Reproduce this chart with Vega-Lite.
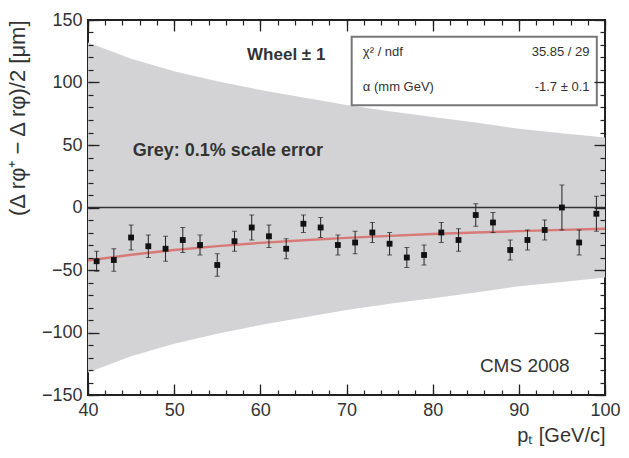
{
  "$schema": "https://vega.github.io/schema/vega-lite/v6.json",
  "width": 517,
  "height": 375,
  "autosize": "none",
  "padding": {"left": 88, "top": 20, "right": 24, "bottom": 63},
  "background": "white",
  "data": {"values": [{}]},
  "config": {
    "view": {"stroke": "#222", "strokeWidth": 2},
    "axis": {"domain": false, "grid": false, "labelFont": "Liberation Sans", "labelFontSize": 18, "labelColor": "#333", "titleFont": "Liberation Sans", "titleColor": "#333", "titleFontWeight": "normal", "labelOverlap": false, "labelFlush": false, "labelBound": false},
    "text": {"font": "Liberation Sans", "color": "#333", "baseline": "middle"}
  },
  "datasets": {
    "band": [
      {"pt": 40, "lo": -132, "hi": 132},
      {"pt": 45, "lo": -119, "hi": 119},
      {"pt": 50, "lo": -109, "hi": 109},
      {"pt": 55, "lo": -101, "hi": 101},
      {"pt": 60, "lo": -94, "hi": 94},
      {"pt": 65, "lo": -88, "hi": 88},
      {"pt": 70, "lo": -82, "hi": 82},
      {"pt": 75, "lo": -77, "hi": 77},
      {"pt": 80, "lo": -72.5, "hi": 72.5},
      {"pt": 85, "lo": -68, "hi": 68},
      {"pt": 90, "lo": -63, "hi": 63},
      {"pt": 95, "lo": -59.5, "hi": 59.5},
      {"pt": 100, "lo": -56, "hi": 56}
    ],
    "fit": [
      {"pt": 40, "v": -42.5},
      {"pt": 45, "v": -37.8},
      {"pt": 50, "v": -34},
      {"pt": 55, "v": -30.9},
      {"pt": 60, "v": -28.3},
      {"pt": 65, "v": -26.2},
      {"pt": 70, "v": -24.3},
      {"pt": 75, "v": -22.7},
      {"pt": 80, "v": -21.25},
      {"pt": 85, "v": -20},
      {"pt": 90, "v": -18.9},
      {"pt": 95, "v": -17.9},
      {"pt": 100, "v": -17}
    ],
    "pts": [
      {"pt": 41, "v": -43, "lo": -51, "hi": -35},
      {"pt": 43, "v": -42, "lo": -51, "hi": -33},
      {"pt": 45, "v": -24, "lo": -34, "hi": -14},
      {"pt": 47, "v": -31, "lo": -40, "hi": -22},
      {"pt": 49, "v": -33, "lo": -43, "hi": -23},
      {"pt": 51, "v": -26, "lo": -36, "hi": -16},
      {"pt": 53, "v": -30, "lo": -38, "hi": -22},
      {"pt": 55, "v": -46, "lo": -55, "hi": -37},
      {"pt": 57, "v": -27, "lo": -35, "hi": -19},
      {"pt": 59, "v": -16, "lo": -26, "hi": -6},
      {"pt": 61, "v": -23, "lo": -32, "hi": -14},
      {"pt": 63, "v": -33, "lo": -41, "hi": -25},
      {"pt": 65, "v": -13, "lo": -20, "hi": -6},
      {"pt": 67, "v": -16, "lo": -24, "hi": -8},
      {"pt": 69, "v": -30, "lo": -38, "hi": -22},
      {"pt": 71, "v": -28, "lo": -37, "hi": -19},
      {"pt": 73, "v": -20, "lo": -28, "hi": -12},
      {"pt": 75, "v": -29, "lo": -38, "hi": -20},
      {"pt": 77, "v": -40, "lo": -48, "hi": -32},
      {"pt": 79, "v": -38, "lo": -46, "hi": -30},
      {"pt": 81, "v": -20, "lo": -28, "hi": -12},
      {"pt": 83, "v": -26, "lo": -35, "hi": -17},
      {"pt": 85, "v": -6, "lo": -15, "hi": 3},
      {"pt": 87, "v": -12, "lo": -20, "hi": -4},
      {"pt": 89, "v": -34, "lo": -42, "hi": -26},
      {"pt": 91, "v": -26, "lo": -34, "hi": -18},
      {"pt": 93, "v": -18, "lo": -26, "hi": -10},
      {"pt": 95, "v": 0, "lo": -18, "hi": 18},
      {"pt": 97, "v": -28, "lo": -38, "hi": -18},
      {"pt": 99, "v": -5, "lo": -19, "hi": 9}
    ]
  },
  "resolve": {"scale": {"x": "independent", "y": "independent"}, "axis": {"x": "independent", "y": "independent"}},
  "layer": [
    {
      "data": {"name": "band"},
      "mark": {"type": "area", "color": "#d3d3d5", "clip": true},
      "encoding": {
        "x": {"field": "pt", "type": "quantitative", "scale": {"domain": [40, 100], "nice": false, "zero": false},
              "axis": {"orient": "bottom", "values": [40, 50, 60, 70, 80, 90, 100], "zindex": 2, "offset": -11, "tickSize": 11, "tickColor": "#222", "tickWidth": 1.3, "labelPadding": 6, "title": "pₜ [GeV/c]", "titleAnchor": "end", "titleFontSize": 20, "titlePadding": 6}},
        "y": {"field": "lo", "type": "quantitative", "scale": {"domain": [-150, 150], "nice": false, "zero": false},
              "axis": {"orient": "left", "values": [-150, -100, -50, 0, 50, 100, 150], "zindex": 2, "offset": -11, "tickSize": 11, "tickColor": "#222", "tickWidth": 1.3, "labelPadding": 6, "title": "(Δ rφ⁺ − Δ rφ)/2 [μm]", "titleAnchor": "end", "titleFontSize": 22, "titlePadding": 12}},
        "y2": {"field": "hi"}
      }
    },
    {
      "data": {"name": "fit"},
      "mark": {"type": "line", "color": "#d9534f", "strokeWidth": 2.5, "opacity": 0.7, "clip": true},
      "encoding": {
        "x": {"field": "pt", "type": "quantitative", "scale": {"domain": [40, 100], "nice": false, "zero": false}, "axis": {"orient": "top", "values": [40, 50, 60, 70, 80, 90, 100], "zindex": 2, "offset": -11, "tickSize": 11, "tickColor": "#222", "tickWidth": 1.3, "labels": false, "title": null}},
        "y": {"field": "v", "type": "quantitative", "scale": {"domain": [-150, 150], "nice": false, "zero": false}, "axis": {"orient": "right", "values": [-150, -100, -50, 0, 50, 100, 150], "zindex": 2, "offset": -11, "tickSize": 11, "tickColor": "#222", "tickWidth": 1.3, "labels": false, "title": null}}
      }
    },
    {
      "mark": {"type": "rule", "color": "#333", "strokeWidth": 1.5},
      "encoding": {"y": {"datum": 0, "type": "quantitative", "scale": {"domain": [-150, 150], "nice": false, "zero": false}, "axis": null}}
    },
    {
      "data": {"name": "pts"},
      "mark": {"type": "rule", "color": "#222", "strokeWidth": 1},
      "encoding": {
        "x": {"field": "pt", "type": "quantitative", "scale": {"domain": [40, 100], "nice": false, "zero": false}, "axis": {"orient": "bottom", "values": [40,42,44,46,48,50,52,54,56,58,60,62,64,66,68,70,72,74,76,78,80,82,84,86,88,90,92,94,96,98,100], "zindex": 2, "offset": -5, "tickSize": 5, "tickColor": "#222", "tickWidth": 1.2, "labels": false, "title": null}},
        "y": {"field": "lo", "type": "quantitative", "scale": {"domain": [-150, 150], "nice": false, "zero": false}, "axis": {"orient": "left", "values": [-150,-140,-130,-120,-110,-100,-90,-80,-70,-60,-50,-40,-30,-20,-10,0,10,20,30,40,50,60,70,80,90,100,110,120,130,140,150], "zindex": 2, "offset": -5, "tickSize": 5, "tickColor": "#222", "tickWidth": 1.2, "labels": false, "title": null}},
        "y2": {"field": "hi"}
      }
    },
    {
      "data": {"name": "pts"},
      "mark": {"type": "tick", "color": "#222", "orient": "horizontal", "size": 5, "thickness": 1},
      "encoding": {
        "x": {"field": "pt", "type": "quantitative", "scale": {"domain": [40, 100], "nice": false, "zero": false}, "axis": {"orient": "top", "values": [40,42,44,46,48,50,52,54,56,58,60,62,64,66,68,70,72,74,76,78,80,82,84,86,88,90,92,94,96,98,100], "zindex": 2, "offset": -5, "tickSize": 5, "tickColor": "#222", "tickWidth": 1.2, "labels": false, "title": null}},
        "y": {"field": "lo", "type": "quantitative", "scale": {"domain": [-150, 150], "nice": false, "zero": false}, "axis": {"orient": "right", "values": [-150,-140,-130,-120,-110,-100,-90,-80,-70,-60,-50,-40,-30,-20,-10,0,10,20,30,40,50,60,70,80,90,100,110,120,130,140,150], "zindex": 2, "offset": -5, "tickSize": 5, "tickColor": "#222", "tickWidth": 1.2, "labels": false, "title": null}}
      }
    },
    {
      "data": {"name": "pts"},
      "mark": {"type": "tick", "color": "#222", "orient": "horizontal", "size": 5, "thickness": 1},
      "encoding": {
        "x": {"field": "pt", "type": "quantitative", "scale": {"domain": [40, 100], "nice": false, "zero": false}, "axis": null},
        "y": {"field": "hi", "type": "quantitative", "scale": {"domain": [-150, 150], "nice": false, "zero": false}, "axis": null}
      }
    },
    {
      "data": {"name": "pts"},
      "mark": {"type": "square", "color": "#111", "filled": true, "opacity": 1, "size": 34},
      "encoding": {
        "x": {"field": "pt", "type": "quantitative", "scale": {"domain": [40, 100], "nice": false, "zero": false}, "axis": null},
        "y": {"field": "v", "type": "quantitative", "scale": {"domain": [-150, 150], "nice": false, "zero": false}, "axis": null}
      }
    },
    {
      "mark": {"type": "rect", "fill": "white", "stroke": "#777", "strokeWidth": 2},
      "encoding": {
        "x": {"datum": 70.6, "type": "quantitative", "scale": {"domain": [40, 100], "nice": false, "zero": false}, "axis": null},
        "x2": {"datum": 99.05},
        "y": {"datum": 136.7, "type": "quantitative", "scale": {"domain": [-150, 150], "nice": false, "zero": false}, "axis": null},
        "y2": {"datum": 81.9}
      }
    },
    {
      "mark": {"type": "text", "text": "Wheel ± 1", "fontWeight": "bold", "fontSize": 17, "align": "center"},
      "encoding": {"x": {"datum": 63, "type": "quantitative", "scale": {"domain": [40, 100], "nice": false, "zero": false}, "axis": null}, "y": {"datum": 122, "type": "quantitative", "scale": {"domain": [-150, 150], "nice": false, "zero": false}, "axis": null}}
    },
    {
      "mark": {"type": "text", "text": "χ² / ndf", "fontSize": 13, "align": "left"},
      "encoding": {"x": {"datum": 71.9, "type": "quantitative", "scale": {"domain": [40, 100], "nice": false, "zero": false}, "axis": null}, "y": {"datum": 124.6, "type": "quantitative", "scale": {"domain": [-150, 150], "nice": false, "zero": false}, "axis": null}}
    },
    {
      "mark": {"type": "text", "text": "35.85 / 29", "fontSize": 13, "align": "right"},
      "encoding": {"x": {"datum": 98.2, "type": "quantitative", "scale": {"domain": [40, 100], "nice": false, "zero": false}, "axis": null}, "y": {"datum": 124.6, "type": "quantitative", "scale": {"domain": [-150, 150], "nice": false, "zero": false}, "axis": null}}
    },
    {
      "mark": {"type": "text", "text": "α (mm GeV)", "fontSize": 13, "align": "left"},
      "encoding": {"x": {"datum": 71.9, "type": "quantitative", "scale": {"domain": [40, 100], "nice": false, "zero": false}, "axis": null}, "y": {"datum": 96.4, "type": "quantitative", "scale": {"domain": [-150, 150], "nice": false, "zero": false}, "axis": null}}
    },
    {
      "mark": {"type": "text", "text": "-1.7 ± 0.1", "fontSize": 13, "align": "right"},
      "encoding": {"x": {"datum": 98.2, "type": "quantitative", "scale": {"domain": [40, 100], "nice": false, "zero": false}, "axis": null}, "y": {"datum": 96.4, "type": "quantitative", "scale": {"domain": [-150, 150], "nice": false, "zero": false}, "axis": null}}
    },
    {
      "mark": {"type": "text", "text": "Grey: 0.1% scale error", "fontWeight": "bold", "fontSize": 18, "align": "left"},
      "encoding": {"x": {"datum": 45.2, "type": "quantitative", "scale": {"domain": [40, 100], "nice": false, "zero": false}, "axis": null}, "y": {"datum": 45.6, "type": "quantitative", "scale": {"domain": [-150, 150], "nice": false, "zero": false}, "axis": null}}
    },
    {
      "mark": {"type": "text", "text": "CMS 2008", "fontSize": 19, "align": "right"},
      "encoding": {"x": {"datum": 95.9, "type": "quantitative", "scale": {"domain": [40, 100], "nice": false, "zero": false}, "axis": null}, "y": {"datum": -127, "type": "quantitative", "scale": {"domain": [-150, 150], "nice": false, "zero": false}, "axis": null}}
    }
  ]
}
